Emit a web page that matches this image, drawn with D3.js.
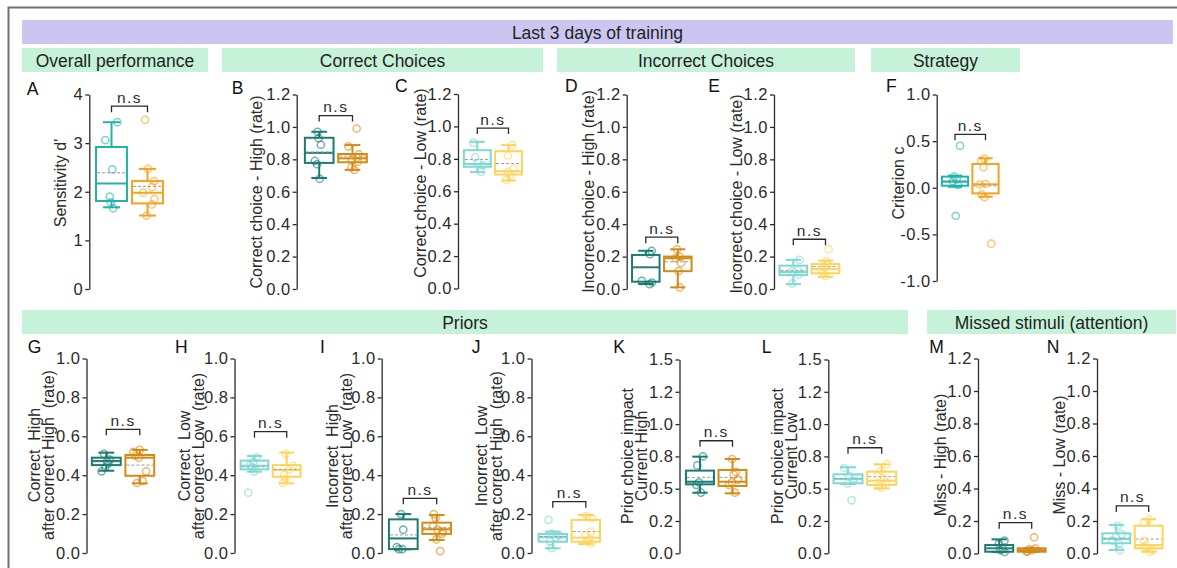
<!DOCTYPE html>
<html><head><meta charset="utf-8">
<script src="https://cdn.jsdelivr.net/npm/d3@7"></script>
<style>
body{margin:0;background:#fff}
svg{display:block;font-family:"Liberation Sans",Arial,Helvetica,sans-serif}
</style>
</head><body>
<svg id="chart" width="1177" height="568"></svg>
<script>
// ---------------- DATA ----------------
const panelIds = ["A","B","C","D","E","F","G","H","I","J","K","L","M","N"];
const yTitles = [
  ["Sensitivity d'"],
  ["Correct choice - High (rate)"],
  ["Correct choice - Low (rate)"],
  ["Incorrect choice - High (rate)"],
  ["Incorrect choice - Low (rate)"],
  ["Criterion c"],
  ["Correct  High","after correct High  (rate)"],
  ["Correct  Low","after correct Low  (rate)"],
  ["Incorrect  High","after correct Low  (rate)"],
  ["Incorrect  Low","after correct High  (rate)"],
  ["Prior choice impact","Current High"],
  ["Prior choice impact","Current Low"],
  ["Miss - High (rate)"],
  ["Miss - Low (rate)"]
];
const topHeader = "Last 3 days of training";
const sectionHeaders = ["Overall performance","Correct Choices","Incorrect Choices","Strategy","Priors","Missed stimuli (attention)"];

const ticksD = [0,1,2,3,4];
const ticksD_labels = ["0","1","2","3","4"];
const ticks12 = [0,0.2,0.4,0.6,0.8,1.0,1.2];
const ticks12_labels = ["0.0","0.2","0.4","0.6","0.8","1.0","1.2"];
const ticks10 = [0,0.2,0.4,0.6,0.8,1.0];
const ticks10_labels = ["0.0","0.2","0.4","0.6","0.8","1.0"];
const ticksC = [-1,-0.5,0,0.5,1];
const ticksC_labels = ["-1.0","-0.5","0.0","0.5","1.0"];
const ticks15 = [0,0.25,0.5,0.75,1.0,1.25,1.5];
const ticks15_labels = ["0.0","0.2","0.5","0.8","1.0","1.2","1.5"];

// box statistics per panel: [whisker low, Q1, median, Q3, whisker high, mean]
const controlStats = [
  [1.68,1.81,2.17,2.92,3.43,2.39],
  [0.685,0.778,0.84,0.933,0.97,0.845],
  [0.718,0.751,0.768,0.853,0.905,0.796],
  [0.031,0.045,0.134,0.21,0.236,0.138],
  [0.03,0.086,0.105,0.144,0.18,0.115],
  [0.01,0.022,0.065,0.119,0.13,0.075],
  [0.423,0.452,0.473,0.49,0.516,0.468],
  [0.418,0.43,0.449,0.475,0.499,0.443],
  [0.019,0.02,0.075,0.173,0.2,0.093],
  [0.024,0.058,0.081,0.098,0.11,0.085],
  [0.469,0.534,0.554,0.64,0.748,0.588],
  [0.536,0.542,0.575,0.611,0.666,0.58],
  [0.01,0.011,0.032,0.052,0.087,0.035],
  [0.022,0.063,0.089,0.124,0.176,0.095]
];
const treatedStats = [
  [1.51,1.76,1.98,2.22,2.47,2.11],
  [0.735,0.782,0.806,0.833,0.888,0.82],
  [0.666,0.703,0.724,0.847,0.885,0.771],
  [0.01,0.11,0.19,0.2,0.245,0.168],
  [0.075,0.097,0.123,0.154,0.175,0.138],
  [-0.096,-0.06,0.037,0.255,0.316,0.02],
  [0.358,0.397,0.49,0.504,0.53,0.452],
  [0.358,0.392,0.427,0.452,0.516,0.43],
  [0.067,0.098,0.122,0.156,0.195,0.13],
  [0.046,0.058,0.079,0.17,0.195,0.11],
  [0.464,0.521,0.554,0.645,0.73,0.588],
  [0.503,0.529,0.562,0.632,0.689,0.593],
  [0.01,0.011,0.02,0.032,0.032,0.025],
  [0.011,0.032,0.052,0.171,0.211,0.089]
];
// individual subjects
const controlPoints = [
  [3.43,3.06,2.46,1.90,1.78,1.66],
  [0.97,0.93,0.89,0.79,0.77,0.68],
  [0.90,0.81,0.775,0.76,0.72],
  [0.235,0.215,0.05,0.04,0.03],
  [0.18,0.12,0.11,0.09,0.035],
  [0.45,0.12,0.09,0.07,0.03,-0.30],
  [0.51,0.48,0.47,0.46,0.44,0.42],
  [0.49,0.47,0.45,0.44,0.42,0.31],
  [0.20,0.12,0.03,0.02,0.02],
  [0.17,0.10,0.09,0.08,0.06,0.025],
  [0.75,0.68,0.55,0.53,0.47],
  [0.66,0.60,0.58,0.56,0.54,0.41],
  [0.08,0.06,0.03,0.02,0.01],
  [0.17,0.12,0.10,0.08,0.06,0.02]
];
const treatedPoints = [
  [3.48,2.47,2.22,2.10,1.98,1.85,1.74,1.51],
  [0.99,0.88,0.83,0.81,0.80,0.785,0.75,0.735],
  [0.885,0.82,0.74,0.72,0.70,0.67],
  [0.245,0.2,0.19,0.16,0.11,0.01],
  [0.245,0.17,0.15,0.13,0.12,0.10,0.08],
  [0.31,0.29,0.22,0.04,0.035,-0.07,-0.10,-0.60],
  [0.53,0.52,0.50,0.49,0.42,0.37,0.36],
  [0.51,0.45,0.43,0.40,0.38,0.36],
  [0.20,0.18,0.14,0.12,0.11,0.10,0.07,0.01],
  [0.19,0.18,0.11,0.09,0.07,0.06,0.05],
  [0.73,0.63,0.61,0.57,0.55,0.53,0.47],
  [0.69,0.64,0.60,0.58,0.55,0.52,0.51],
  [0.10,0.03,0.025,0.02,0.015,0.01],
  [0.21,0.19,0.08,0.05,0.04,0.02,0.01]
];
// height of significance bracket (data units)
const bracketValues = [3.76,1.07,0.99,0.32,0.307,0.573,0.636,0.624,0.281,0.264,0.871,0.817,0.19,0.293];
const sigLabels = ["n.s","n.s","n.s","n.s","n.s","n.s","n.s","n.s","n.s","n.s","n.s","n.s","n.s","n.s"];

// ---------------- LAYOUT / STYLE ----------------
const shades = {
  mid:   {c:"#22B3AB", t:"#F6A21E"},
  dark:  {c:"#197C74", t:"#D68A12"},
  light: {c:"#7ED8D3", t:"#FFD35A"}
};
const layout = [
  {ax:89.3, c1:111.5, c2:147.5, y0:289, y1:94.5, dom:[0,4], tv:ticksD, tl:ticksD_labels, sh:"mid", tx:[60.5], ty:183, lx:26.7, ly:95},
  {ax:296.7, c1:319.2, c2:352.5, y0:289, y1:94.5, dom:[0,1.2], tv:ticks12, tl:ticks12_labels, sh:"dark", tx:[256.5], ty:192, lx:231.7, ly:94},
  {ax:458, c1:477.3, c2:508.5, y0:288.5, y1:94, dom:[0,1.2], tv:ticks12, tl:ticks12_labels, sh:"light", tx:[420], ty:183, lx:395, ly:92},
  {ax:626.7, c1:645.8, c2:677.8, y0:289, y1:94.5, dom:[0,1.2], tv:ticks12, tl:ticks12_labels, sh:"dark", tx:[588], ty:191.5, lx:565, ly:92},
  {ax:774, c1:793.3, c2:825.5, y0:289, y1:94.5, dom:[0,1.2], tv:ticks12, tl:ticks12_labels, sh:"light", tx:[736.5], ty:194, lx:708.3, ly:92},
  {ax:936.7, c1:955, c2:985.5, y0:281, y1:94.5, dom:[-1,1], tv:ticksC, tl:ticksC_labels, sh:"mid", tx:[898], ty:183, lx:886, ly:92},
  {ax:86.5, c1:106.3, c2:139.8, y0:553, y1:358.5, dom:[0,1], tv:ticks10, tl:ticks10_labels, sh:"dark", tx:[34,48.5], ty:455, lx:27.7, ly:353},
  {ax:234.5, c1:254.5, c2:286.7, y0:553, y1:358.5, dom:[0,1], tv:ticks10, tl:ticks10_labels, sh:"light", tx:[184,198.5], ty:456, lx:175, ly:353},
  {ax:381.7, c1:403.3, c2:436.7, y0:553, y1:358.5, dom:[0,1], tv:ticks10, tl:ticks10_labels, sh:"dark", tx:[332,346.5], ty:456, lx:320, ly:353},
  {ax:531.5, c1:552.8, c2:585.8, y0:553, y1:358.5, dom:[0,1], tv:ticks10, tl:ticks10_labels, sh:"light", tx:[481.5,496.5], ty:456, lx:471.7, ly:353},
  {ax:679.5, c1:700, c2:732.5, y0:553.3, y1:359.5, dom:[0,1.5], tv:ticks15, tl:ticks15_labels, sh:"dark", tx:[627,641.5], ty:456, lx:613.3, ly:353},
  {ax:828.3, c1:848, c2:881.7, y0:553.3, y1:359.5, dom:[0,1.5], tv:ticks15, tl:ticks15_labels, sh:"light", tx:[777,791.5], ty:456, lx:761.7, ly:353},
  {ax:978, c1:999.2, c2:1031.7, y0:553.5, y1:358.5, dom:[0,1.2], tv:ticks12, tl:ticks12_labels, sh:"dark", tx:[940.5], ty:455, lx:929.3, ly:353},
  {ax:1097, c1:1116.3, c2:1148.7, y0:553.5, y1:358.5, dom:[0,1.2], tv:ticks12, tl:ticks12_labels, sh:"light", tx:[1059], ty:455, lx:1046.7, ly:353}
];
const headerBoxes = [
  {x0:22, x1:208, y:48, h:24},
  {x0:222, x1:543, y:48, h:24},
  {x0:557, x1:855, y:48, h:24},
  {x0:871, x1:1020, y:48, h:24},
  {x0:22, x1:908, y:310, h:24},
  {x0:927, x1:1176, y:310, h:24}
];

const svg = d3.select("#chart");
const ink = "#2b2b2b";

// frame
svg.append("path").attr("d","M8.5,568 V7.5 H1177").attr("fill","none").attr("stroke","#707070").attr("stroke-width",2);

// headers
svg.append("rect").attr("x",22).attr("y",20).attr("width",1151).attr("height",24).attr("fill","#CBC6F1");
svg.append("text").attr("x",597.5).attr("y",38.5).attr("text-anchor","middle").attr("font-size",17.5).attr("fill","#222").text(topHeader);
headerBoxes.forEach((b,i)=>{
  svg.append("rect").attr("x",b.x0).attr("y",b.y).attr("width",b.x1-b.x0).attr("height",b.h).attr("fill","#C6F2D9");
  svg.append("text").attr("x",(b.x0+b.x1)/2).attr("y",b.y+18.5).attr("text-anchor","middle").attr("font-size",17.5).attr("fill","#222").text(sectionHeaders[i]);
});

function jit(i){ const v = Math.sin((i+1)*12.9898)*43758.5453; return (v - Math.floor(v)) - 0.5; }

panelIds.forEach((id,p)=>{
  const L = layout[p];
  const col = shades[L.sh];
  const g = svg.append("g");
  const y = d3.scaleLinear().domain(L.dom).range([L.y0, L.y1]);
  const x = d3.scaleLinear().domain([1,2]).range([L.c1, L.c2]);
  const bw = 0.86*(L.c2-L.c1);
  const capW = 0.55*bw;

  // axis
  const axis = d3.axisLeft(y).tickValues(L.tv).tickFormat((d,i)=>L.tl[i]).tickSizeInner(4).tickSizeOuter(0).tickPadding(2);
  const ag = g.append("g").attr("transform",`translate(${L.ax},0)`).call(axis);
  ag.attr("font-size",null).attr("font-family",null);
  ag.select(".domain").attr("stroke",ink).attr("stroke-width",1.3);
  ag.selectAll(".tick line").attr("stroke",ink).attr("stroke-width",1.3);
  ag.selectAll(".tick text").attr("fill",ink).style("font-size","16.5px").attr("letter-spacing","0.5px");

  // y title
  const lines = yTitles[p];
  lines.forEach((t,k)=>{
    g.append("text").attr("transform",`translate(${L.tx[k]},${L.ty}) rotate(-90)`)
      .attr("text-anchor","middle").attr("dominant-baseline","central")
      .attr("font-size",16).attr("fill",ink).style("white-space","pre").text(t);
  });

  // panel letter
  g.append("text").attr("x",L.lx).attr("y",L.ly).attr("font-size",17.5).attr("fill","#111").text(id);

  // boxes
  [[controlStats[p],controlPoints[p],col.c,1],[treatedStats[p],treatedPoints[p],col.t,2]].forEach(([s,pts,c,gx],gi)=>{
    const cx = x(gx);
    const bg = g.append("g");
    bg.append("line").attr("x1",cx).attr("x2",cx).attr("y1",y(s[3])).attr("y2",y(s[4])).attr("stroke",c).attr("stroke-width",2);
    bg.append("line").attr("x1",cx).attr("x2",cx).attr("y1",y(s[1])).attr("y2",y(s[0])).attr("stroke",c).attr("stroke-width",2);
    bg.append("line").attr("x1",cx-capW/2).attr("x2",cx+capW/2).attr("y1",y(s[4])).attr("y2",y(s[4])).attr("stroke",c).attr("stroke-width",2);
    bg.append("line").attr("x1",cx-capW/2).attr("x2",cx+capW/2).attr("y1",y(s[0])).attr("y2",y(s[0])).attr("stroke",c).attr("stroke-width",2);
    bg.append("rect").attr("x",cx-bw/2).attr("y",y(s[3])).attr("width",bw).attr("height",Math.max(0.5,y(s[1])-y(s[3])))
      .attr("fill","none").attr("stroke",c).attr("stroke-width",2);
    bg.append("line").attr("x1",cx-bw/2).attr("x2",cx+bw/2).attr("y1",y(s[2])).attr("y2",y(s[2])).attr("stroke",c).attr("stroke-width",2);
    bg.append("line").attr("x1",cx-bw/2+1).attr("x2",cx+bw/2-1).attr("y1",y(s[5])).attr("y2",y(s[5]))
      .attr("stroke","#9a9a9a").attr("stroke-width",1).attr("stroke-dasharray","3,2");
    pts.forEach((v,i)=>{
      bg.append("circle").attr("cx",cx + jit(i+gi*7+p*3)*0.45*bw).attr("cy",y(v)).attr("r",3.6)
        .attr("fill","none").attr("stroke",c).attr("stroke-opacity",0.6).attr("stroke-width",1.5);
    });
  });

  // bracket
  const by = y(bracketValues[p]);
  g.append("path").attr("d",`M${x(1)},${by+6} V${by} H${x(2)} V${by+6}`).attr("fill","none").attr("stroke",ink).attr("stroke-width",1.3);
  g.append("text").attr("x",(x(1)+x(2))/2).attr("y",by-3.5).attr("text-anchor","middle").attr("font-size",15.5)
    .attr("letter-spacing","1.5px").attr("fill",ink).text(sigLabels[p]);
});
</script>
</body></html>
